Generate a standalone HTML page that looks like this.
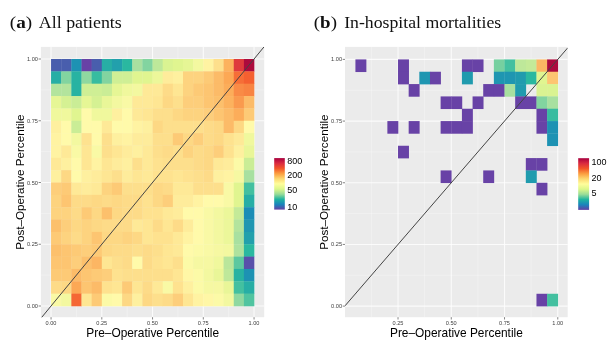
<!DOCTYPE html>
<html><head><meta charset="utf-8"><style>
html,body{margin:0;padding:0;background:#fff;width:611px;height:344px;overflow:hidden}
.tk{font-family:"Liberation Sans",sans-serif;font-size:5.6px;fill:#404040}
.at{font-family:"Liberation Sans",sans-serif;font-size:11.9px;fill:#000}
.ti{font-family:"Liberation Serif",serif;font-size:17px;fill:#111}
.lg{font-family:"Liberation Sans",sans-serif;font-size:9px;fill:#000}
</style></head><body>
<svg width="611" height="344" viewBox="0 0 611 344" style="display:block;will-change:transform;filter:blur(0.35px)">
<rect width="611" height="344" fill="#fff"/>
<rect x="40.9" y="46.9" width="223.3" height="270.3" fill="#EBEBEB"/>
<line x1="76.42" y1="46.9" x2="76.42" y2="317.2" stroke="#fff" stroke-width="0.5" stroke-opacity="0.6"/>
<line x1="127.17" y1="46.9" x2="127.17" y2="317.2" stroke="#fff" stroke-width="0.5" stroke-opacity="0.6"/>
<line x1="177.93" y1="46.9" x2="177.93" y2="317.2" stroke="#fff" stroke-width="0.5" stroke-opacity="0.6"/>
<line x1="228.68" y1="46.9" x2="228.68" y2="317.2" stroke="#fff" stroke-width="0.5" stroke-opacity="0.6"/>
<line x1="40.9" y1="275.12" x2="264.2" y2="275.12" stroke="#fff" stroke-width="0.5" stroke-opacity="0.6"/>
<line x1="40.9" y1="213.38" x2="264.2" y2="213.38" stroke="#fff" stroke-width="0.5" stroke-opacity="0.6"/>
<line x1="40.9" y1="151.62" x2="264.2" y2="151.62" stroke="#fff" stroke-width="0.5" stroke-opacity="0.6"/>
<line x1="40.9" y1="89.88" x2="264.2" y2="89.88" stroke="#fff" stroke-width="0.5" stroke-opacity="0.6"/>
<line x1="51.05" y1="46.9" x2="51.05" y2="317.2" stroke="#fff" stroke-width="1.1" stroke-opacity="0.8"/>
<line x1="101.8" y1="46.9" x2="101.8" y2="317.2" stroke="#fff" stroke-width="1.1" stroke-opacity="0.8"/>
<line x1="152.55" y1="46.9" x2="152.55" y2="317.2" stroke="#fff" stroke-width="1.1" stroke-opacity="0.8"/>
<line x1="203.3" y1="46.9" x2="203.3" y2="317.2" stroke="#fff" stroke-width="1.1" stroke-opacity="0.8"/>
<line x1="254.05" y1="46.9" x2="254.05" y2="317.2" stroke="#fff" stroke-width="1.1" stroke-opacity="0.8"/>
<line x1="40.9" y1="306" x2="264.2" y2="306" stroke="#fff" stroke-width="1.1" stroke-opacity="0.8"/>
<line x1="40.9" y1="244.25" x2="264.2" y2="244.25" stroke="#fff" stroke-width="1.1" stroke-opacity="0.8"/>
<line x1="40.9" y1="182.5" x2="264.2" y2="182.5" stroke="#fff" stroke-width="1.1" stroke-opacity="0.8"/>
<line x1="40.9" y1="120.75" x2="264.2" y2="120.75" stroke="#fff" stroke-width="1.1" stroke-opacity="0.8"/>
<line x1="40.9" y1="59" x2="264.2" y2="59" stroke="#fff" stroke-width="1.1" stroke-opacity="0.8"/>
<rect x="51.05" y="59" width="10.45" height="12.65" fill="#495EAD"/>
<rect x="61.2" y="59" width="10.45" height="12.65" fill="#495EAD"/>
<rect x="71.35" y="59" width="10.45" height="12.65" fill="#1D92B3"/>
<rect x="81.5" y="59" width="10.45" height="12.65" fill="#6842A6"/>
<rect x="91.65" y="59" width="10.45" height="12.65" fill="#495EAD"/>
<rect x="101.8" y="59" width="10.45" height="12.65" fill="#27AEA5"/>
<rect x="111.95" y="59" width="10.45" height="12.65" fill="#22A0AC"/>
<rect x="122.1" y="59" width="10.45" height="12.65" fill="#2AB8A0"/>
<rect x="132.25" y="59" width="10.45" height="12.65" fill="#A8E0A0"/>
<rect x="142.4" y="59" width="10.45" height="12.65" fill="#82D4A0"/>
<rect x="152.55" y="59" width="10.45" height="12.65" fill="#BEE89A"/>
<rect x="162.7" y="59" width="10.45" height="12.65" fill="#DAF392"/>
<rect x="172.85" y="59" width="10.45" height="12.65" fill="#E0F590"/>
<rect x="183" y="59" width="10.45" height="12.65" fill="#E6F695"/>
<rect x="193.15" y="59" width="10.45" height="12.65" fill="#F3F8A0"/>
<rect x="203.3" y="59" width="10.45" height="12.65" fill="#FFF3A2"/>
<rect x="213.45" y="59" width="10.45" height="12.65" fill="#FDDF8C"/>
<rect x="223.6" y="59" width="10.45" height="12.65" fill="#FCB25E"/>
<rect x="233.75" y="59" width="10.45" height="12.65" fill="#DF3A3D"/>
<rect x="243.9" y="59" width="10.45" height="12.65" fill="#AC0A3D"/>
<rect x="51.05" y="71.35" width="10.45" height="12.65" fill="#27AEA5"/>
<rect x="61.2" y="71.35" width="10.45" height="12.65" fill="#82D4A0"/>
<rect x="71.35" y="71.35" width="10.45" height="12.65" fill="#28B3A2"/>
<rect x="81.5" y="71.35" width="10.45" height="12.65" fill="#8FD8A0"/>
<rect x="91.65" y="71.35" width="10.45" height="12.65" fill="#37BCA0"/>
<rect x="101.8" y="71.35" width="10.45" height="12.65" fill="#82D4A0"/>
<rect x="111.95" y="71.35" width="10.45" height="12.65" fill="#CFEF95"/>
<rect x="122.1" y="71.35" width="10.45" height="12.65" fill="#CFEF95"/>
<rect x="132.25" y="71.35" width="10.45" height="12.65" fill="#E0F590"/>
<rect x="142.4" y="71.35" width="10.45" height="12.65" fill="#E0F590"/>
<rect x="152.55" y="71.35" width="10.45" height="12.65" fill="#ECF79A"/>
<rect x="162.7" y="71.35" width="10.45" height="12.65" fill="#FEEC9B"/>
<rect x="172.85" y="71.35" width="10.45" height="12.65" fill="#FEF09F"/>
<rect x="183" y="71.35" width="10.45" height="12.65" fill="#FDD37F"/>
<rect x="193.15" y="71.35" width="10.45" height="12.65" fill="#FDD37F"/>
<rect x="203.3" y="71.35" width="10.45" height="12.65" fill="#FDCA76"/>
<rect x="213.45" y="71.35" width="10.45" height="12.65" fill="#FCBB68"/>
<rect x="223.6" y="71.35" width="10.45" height="12.65" fill="#FCA855"/>
<rect x="233.75" y="71.35" width="10.45" height="12.65" fill="#F66E37"/>
<rect x="243.9" y="71.35" width="10.45" height="12.65" fill="#F46030"/>
<rect x="51.05" y="83.7" width="10.45" height="12.65" fill="#B3E49D"/>
<rect x="61.2" y="83.7" width="10.45" height="12.65" fill="#B3E49D"/>
<rect x="71.35" y="83.7" width="10.45" height="12.65" fill="#28B3A2"/>
<rect x="81.5" y="83.7" width="10.45" height="12.65" fill="#CFEF95"/>
<rect x="91.65" y="83.7" width="10.45" height="12.65" fill="#CFEF95"/>
<rect x="101.8" y="83.7" width="10.45" height="12.65" fill="#CAED96"/>
<rect x="111.95" y="83.7" width="10.45" height="12.65" fill="#E6F695"/>
<rect x="122.1" y="83.7" width="10.45" height="12.65" fill="#F0F89D"/>
<rect x="132.25" y="83.7" width="10.45" height="12.65" fill="#F3F8A0"/>
<rect x="142.4" y="83.7" width="10.45" height="12.65" fill="#FEE997"/>
<rect x="152.55" y="83.7" width="10.45" height="12.65" fill="#FEE997"/>
<rect x="162.7" y="83.7" width="10.45" height="12.65" fill="#FDDB88"/>
<rect x="172.85" y="83.7" width="10.45" height="12.65" fill="#FEE693"/>
<rect x="183" y="83.7" width="10.45" height="12.65" fill="#FDD37F"/>
<rect x="193.15" y="83.7" width="10.45" height="12.65" fill="#FDCA76"/>
<rect x="203.3" y="83.7" width="10.45" height="12.65" fill="#FDC571"/>
<rect x="213.45" y="83.7" width="10.45" height="12.65" fill="#FCBB68"/>
<rect x="223.6" y="83.7" width="10.45" height="12.65" fill="#FCAD5A"/>
<rect x="233.75" y="83.7" width="10.45" height="12.65" fill="#F98B46"/>
<rect x="243.9" y="83.7" width="10.45" height="12.65" fill="#F88442"/>
<rect x="51.05" y="96.05" width="10.45" height="12.65" fill="#E6F695"/>
<rect x="61.2" y="96.05" width="10.45" height="12.65" fill="#D5F193"/>
<rect x="71.35" y="96.05" width="10.45" height="12.65" fill="#CAED96"/>
<rect x="81.5" y="96.05" width="10.45" height="12.65" fill="#E6F695"/>
<rect x="91.65" y="96.05" width="10.45" height="12.65" fill="#D5F193"/>
<rect x="101.8" y="96.05" width="10.45" height="12.65" fill="#E9F698"/>
<rect x="111.95" y="96.05" width="10.45" height="12.65" fill="#F3F8A0"/>
<rect x="122.1" y="96.05" width="10.45" height="12.65" fill="#F9F9A5"/>
<rect x="132.25" y="96.05" width="10.45" height="12.65" fill="#FEE997"/>
<rect x="142.4" y="96.05" width="10.45" height="12.65" fill="#FEE997"/>
<rect x="152.55" y="96.05" width="10.45" height="12.65" fill="#FEE693"/>
<rect x="162.7" y="96.05" width="10.45" height="12.65" fill="#FDD884"/>
<rect x="172.85" y="96.05" width="10.45" height="12.65" fill="#FDDF8C"/>
<rect x="183" y="96.05" width="10.45" height="12.65" fill="#FDCE7B"/>
<rect x="193.15" y="96.05" width="10.45" height="12.65" fill="#FDCE7B"/>
<rect x="203.3" y="96.05" width="10.45" height="12.65" fill="#FDC571"/>
<rect x="213.45" y="96.05" width="10.45" height="12.65" fill="#FCC06C"/>
<rect x="223.6" y="96.05" width="10.45" height="12.65" fill="#FCB25E"/>
<rect x="233.75" y="96.05" width="10.45" height="12.65" fill="#FA9A4E"/>
<rect x="243.9" y="96.05" width="10.45" height="12.65" fill="#FCBB68"/>
<rect x="51.05" y="108.4" width="10.45" height="12.65" fill="#F0F89D"/>
<rect x="61.2" y="108.4" width="10.45" height="12.65" fill="#F0F89D"/>
<rect x="71.35" y="108.4" width="10.45" height="12.65" fill="#E0F590"/>
<rect x="81.5" y="108.4" width="10.45" height="12.65" fill="#FFFAAA"/>
<rect x="91.65" y="108.4" width="10.45" height="12.65" fill="#F0F89D"/>
<rect x="101.8" y="108.4" width="10.45" height="12.65" fill="#F0F89D"/>
<rect x="111.95" y="108.4" width="10.45" height="12.65" fill="#FEF09F"/>
<rect x="122.1" y="108.4" width="10.45" height="12.65" fill="#FFFAAA"/>
<rect x="132.25" y="108.4" width="10.45" height="12.65" fill="#FEE997"/>
<rect x="142.4" y="108.4" width="10.45" height="12.65" fill="#FEE693"/>
<rect x="152.55" y="108.4" width="10.45" height="12.65" fill="#FDDF8C"/>
<rect x="162.7" y="108.4" width="10.45" height="12.65" fill="#FDDF8C"/>
<rect x="172.85" y="108.4" width="10.45" height="12.65" fill="#FDD884"/>
<rect x="183" y="108.4" width="10.45" height="12.65" fill="#FDD37F"/>
<rect x="193.15" y="108.4" width="10.45" height="12.65" fill="#FDD37F"/>
<rect x="203.3" y="108.4" width="10.45" height="12.65" fill="#FDCE7B"/>
<rect x="213.45" y="108.4" width="10.45" height="12.65" fill="#FDC571"/>
<rect x="223.6" y="108.4" width="10.45" height="12.65" fill="#FCBB68"/>
<rect x="233.75" y="108.4" width="10.45" height="12.65" fill="#FCAD5A"/>
<rect x="243.9" y="108.4" width="10.45" height="12.65" fill="#FDCA76"/>
<rect x="51.05" y="120.75" width="10.45" height="12.65" fill="#FEF09F"/>
<rect x="61.2" y="120.75" width="10.45" height="12.65" fill="#FFFAAA"/>
<rect x="71.35" y="120.75" width="10.45" height="12.65" fill="#CAED96"/>
<rect x="81.5" y="120.75" width="10.45" height="12.65" fill="#FFFAAA"/>
<rect x="91.65" y="120.75" width="10.45" height="12.65" fill="#FFFAAA"/>
<rect x="101.8" y="120.75" width="10.45" height="12.65" fill="#FEE997"/>
<rect x="111.95" y="120.75" width="10.45" height="12.65" fill="#FFFAAA"/>
<rect x="122.1" y="120.75" width="10.45" height="12.65" fill="#FFFAAA"/>
<rect x="132.25" y="120.75" width="10.45" height="12.65" fill="#FFF3A2"/>
<rect x="142.4" y="120.75" width="10.45" height="12.65" fill="#FEF09F"/>
<rect x="152.55" y="120.75" width="10.45" height="12.65" fill="#FDD884"/>
<rect x="162.7" y="120.75" width="10.45" height="12.65" fill="#FDDF8C"/>
<rect x="172.85" y="120.75" width="10.45" height="12.65" fill="#FDDF8C"/>
<rect x="183" y="120.75" width="10.45" height="12.65" fill="#FDDF8C"/>
<rect x="193.15" y="120.75" width="10.45" height="12.65" fill="#FDDF8C"/>
<rect x="203.3" y="120.75" width="10.45" height="12.65" fill="#FDDB88"/>
<rect x="213.45" y="120.75" width="10.45" height="12.65" fill="#FDD884"/>
<rect x="223.6" y="120.75" width="10.45" height="12.65" fill="#FCBB68"/>
<rect x="233.75" y="120.75" width="10.45" height="12.65" fill="#FDD884"/>
<rect x="243.9" y="120.75" width="10.45" height="12.65" fill="#FFFAAA"/>
<rect x="51.05" y="133.1" width="10.45" height="12.65" fill="#FFF3A2"/>
<rect x="61.2" y="133.1" width="10.45" height="12.65" fill="#FFFAAA"/>
<rect x="71.35" y="133.1" width="10.45" height="12.65" fill="#F3F8A0"/>
<rect x="81.5" y="133.1" width="10.45" height="12.65" fill="#FEE28F"/>
<rect x="91.65" y="133.1" width="10.45" height="12.65" fill="#FFFAAA"/>
<rect x="101.8" y="133.1" width="10.45" height="12.65" fill="#FDDF8C"/>
<rect x="111.95" y="133.1" width="10.45" height="12.65" fill="#FEF09F"/>
<rect x="122.1" y="133.1" width="10.45" height="12.65" fill="#FFF3A2"/>
<rect x="132.25" y="133.1" width="10.45" height="12.65" fill="#FEEC9B"/>
<rect x="142.4" y="133.1" width="10.45" height="12.65" fill="#FEEC9B"/>
<rect x="152.55" y="133.1" width="10.45" height="12.65" fill="#FDDF8C"/>
<rect x="162.7" y="133.1" width="10.45" height="12.65" fill="#FDDF8C"/>
<rect x="172.85" y="133.1" width="10.45" height="12.65" fill="#FDCA76"/>
<rect x="183" y="133.1" width="10.45" height="12.65" fill="#FDD884"/>
<rect x="193.15" y="133.1" width="10.45" height="12.65" fill="#FDCE7B"/>
<rect x="203.3" y="133.1" width="10.45" height="12.65" fill="#FDDB88"/>
<rect x="213.45" y="133.1" width="10.45" height="12.65" fill="#FDD884"/>
<rect x="223.6" y="133.1" width="10.45" height="12.65" fill="#FEE28F"/>
<rect x="233.75" y="133.1" width="10.45" height="12.65" fill="#FEE997"/>
<rect x="243.9" y="133.1" width="10.45" height="12.65" fill="#F0F89D"/>
<rect x="51.05" y="145.45" width="10.45" height="12.65" fill="#FFF3A2"/>
<rect x="61.2" y="145.45" width="10.45" height="12.65" fill="#FEE997"/>
<rect x="71.35" y="145.45" width="10.45" height="12.65" fill="#F9F9A5"/>
<rect x="81.5" y="145.45" width="10.45" height="12.65" fill="#FEE693"/>
<rect x="91.65" y="145.45" width="10.45" height="12.65" fill="#F9F9A5"/>
<rect x="101.8" y="145.45" width="10.45" height="12.65" fill="#FDDF8C"/>
<rect x="111.95" y="145.45" width="10.45" height="12.65" fill="#FEE693"/>
<rect x="122.1" y="145.45" width="10.45" height="12.65" fill="#FEEC9B"/>
<rect x="132.25" y="145.45" width="10.45" height="12.65" fill="#FEF09F"/>
<rect x="142.4" y="145.45" width="10.45" height="12.65" fill="#FEE997"/>
<rect x="152.55" y="145.45" width="10.45" height="12.65" fill="#FDDF8C"/>
<rect x="162.7" y="145.45" width="10.45" height="12.65" fill="#FDDB88"/>
<rect x="172.85" y="145.45" width="10.45" height="12.65" fill="#FDDF8C"/>
<rect x="183" y="145.45" width="10.45" height="12.65" fill="#FDD37F"/>
<rect x="193.15" y="145.45" width="10.45" height="12.65" fill="#FDDB88"/>
<rect x="203.3" y="145.45" width="10.45" height="12.65" fill="#FDD884"/>
<rect x="213.45" y="145.45" width="10.45" height="12.65" fill="#FDCE7B"/>
<rect x="223.6" y="145.45" width="10.45" height="12.65" fill="#FEE28F"/>
<rect x="233.75" y="145.45" width="10.45" height="12.65" fill="#FEF09F"/>
<rect x="243.9" y="145.45" width="10.45" height="12.65" fill="#E9F698"/>
<rect x="51.05" y="157.8" width="10.45" height="12.65" fill="#FEE997"/>
<rect x="61.2" y="157.8" width="10.45" height="12.65" fill="#FEF09F"/>
<rect x="71.35" y="157.8" width="10.45" height="12.65" fill="#FFFAAA"/>
<rect x="81.5" y="157.8" width="10.45" height="12.65" fill="#FEE693"/>
<rect x="91.65" y="157.8" width="10.45" height="12.65" fill="#FFF3A2"/>
<rect x="101.8" y="157.8" width="10.45" height="12.65" fill="#FEE693"/>
<rect x="111.95" y="157.8" width="10.45" height="12.65" fill="#FEEC9B"/>
<rect x="122.1" y="157.8" width="10.45" height="12.65" fill="#FEF09F"/>
<rect x="132.25" y="157.8" width="10.45" height="12.65" fill="#FDDF8C"/>
<rect x="142.4" y="157.8" width="10.45" height="12.65" fill="#FEE997"/>
<rect x="152.55" y="157.8" width="10.45" height="12.65" fill="#FEE28F"/>
<rect x="162.7" y="157.8" width="10.45" height="12.65" fill="#FDDF8C"/>
<rect x="172.85" y="157.8" width="10.45" height="12.65" fill="#FDDF8C"/>
<rect x="183" y="157.8" width="10.45" height="12.65" fill="#FDDF8C"/>
<rect x="193.15" y="157.8" width="10.45" height="12.65" fill="#FDDB88"/>
<rect x="203.3" y="157.8" width="10.45" height="12.65" fill="#FDD884"/>
<rect x="213.45" y="157.8" width="10.45" height="12.65" fill="#FEE997"/>
<rect x="223.6" y="157.8" width="10.45" height="12.65" fill="#FEEC9B"/>
<rect x="233.75" y="157.8" width="10.45" height="12.65" fill="#FCFAA7"/>
<rect x="243.9" y="157.8" width="10.45" height="12.65" fill="#CAED96"/>
<rect x="51.05" y="170.15" width="10.45" height="12.65" fill="#FEF09F"/>
<rect x="61.2" y="170.15" width="10.45" height="12.65" fill="#FDD884"/>
<rect x="71.35" y="170.15" width="10.45" height="12.65" fill="#FFFAAA"/>
<rect x="81.5" y="170.15" width="10.45" height="12.65" fill="#FEF09F"/>
<rect x="91.65" y="170.15" width="10.45" height="12.65" fill="#FEEC9B"/>
<rect x="101.8" y="170.15" width="10.45" height="12.65" fill="#FEE693"/>
<rect x="111.95" y="170.15" width="10.45" height="12.65" fill="#FDDF8C"/>
<rect x="122.1" y="170.15" width="10.45" height="12.65" fill="#FEEC9B"/>
<rect x="132.25" y="170.15" width="10.45" height="12.65" fill="#FEE693"/>
<rect x="142.4" y="170.15" width="10.45" height="12.65" fill="#FEE997"/>
<rect x="152.55" y="170.15" width="10.45" height="12.65" fill="#FEE28F"/>
<rect x="162.7" y="170.15" width="10.45" height="12.65" fill="#FEE28F"/>
<rect x="172.85" y="170.15" width="10.45" height="12.65" fill="#FEE693"/>
<rect x="183" y="170.15" width="10.45" height="12.65" fill="#FEE28F"/>
<rect x="193.15" y="170.15" width="10.45" height="12.65" fill="#FDDF8C"/>
<rect x="203.3" y="170.15" width="10.45" height="12.65" fill="#FDDB88"/>
<rect x="213.45" y="170.15" width="10.45" height="12.65" fill="#FEF09F"/>
<rect x="223.6" y="170.15" width="10.45" height="12.65" fill="#FFF3A2"/>
<rect x="233.75" y="170.15" width="10.45" height="12.65" fill="#F6F8A2"/>
<rect x="243.9" y="170.15" width="10.45" height="12.65" fill="#A8E0A0"/>
<rect x="51.05" y="182.5" width="10.45" height="12.65" fill="#FDCE7B"/>
<rect x="61.2" y="182.5" width="10.45" height="12.65" fill="#FDCA76"/>
<rect x="71.35" y="182.5" width="10.45" height="12.65" fill="#FEE997"/>
<rect x="81.5" y="182.5" width="10.45" height="12.65" fill="#FEEC9B"/>
<rect x="91.65" y="182.5" width="10.45" height="12.65" fill="#FEE997"/>
<rect x="101.8" y="182.5" width="10.45" height="12.65" fill="#FDD37F"/>
<rect x="111.95" y="182.5" width="10.45" height="12.65" fill="#FDCA76"/>
<rect x="122.1" y="182.5" width="10.45" height="12.65" fill="#FDDF8C"/>
<rect x="132.25" y="182.5" width="10.45" height="12.65" fill="#FDDF8C"/>
<rect x="142.4" y="182.5" width="10.45" height="12.65" fill="#FDDF8C"/>
<rect x="152.55" y="182.5" width="10.45" height="12.65" fill="#FDD884"/>
<rect x="162.7" y="182.5" width="10.45" height="12.65" fill="#FDDB88"/>
<rect x="172.85" y="182.5" width="10.45" height="12.65" fill="#FEE997"/>
<rect x="183" y="182.5" width="10.45" height="12.65" fill="#FEE997"/>
<rect x="193.15" y="182.5" width="10.45" height="12.65" fill="#FDDF8C"/>
<rect x="203.3" y="182.5" width="10.45" height="12.65" fill="#FDDF8C"/>
<rect x="213.45" y="182.5" width="10.45" height="12.65" fill="#FDDF8C"/>
<rect x="223.6" y="182.5" width="10.45" height="12.65" fill="#F9F9A5"/>
<rect x="233.75" y="182.5" width="10.45" height="12.65" fill="#E0F590"/>
<rect x="243.9" y="182.5" width="10.45" height="12.65" fill="#43C0A0"/>
<rect x="51.05" y="194.85" width="10.45" height="12.65" fill="#FDD37F"/>
<rect x="61.2" y="194.85" width="10.45" height="12.65" fill="#FDC571"/>
<rect x="71.35" y="194.85" width="10.45" height="12.65" fill="#FDDB88"/>
<rect x="81.5" y="194.85" width="10.45" height="12.65" fill="#FDDB88"/>
<rect x="91.65" y="194.85" width="10.45" height="12.65" fill="#FDD884"/>
<rect x="101.8" y="194.85" width="10.45" height="12.65" fill="#FDDB88"/>
<rect x="111.95" y="194.85" width="10.45" height="12.65" fill="#FDD884"/>
<rect x="122.1" y="194.85" width="10.45" height="12.65" fill="#FDDB88"/>
<rect x="132.25" y="194.85" width="10.45" height="12.65" fill="#FDDB88"/>
<rect x="142.4" y="194.85" width="10.45" height="12.65" fill="#FEE28F"/>
<rect x="152.55" y="194.85" width="10.45" height="12.65" fill="#FDD884"/>
<rect x="162.7" y="194.85" width="10.45" height="12.65" fill="#FDCE7B"/>
<rect x="172.85" y="194.85" width="10.45" height="12.65" fill="#FEEC9B"/>
<rect x="183" y="194.85" width="10.45" height="12.65" fill="#FEEC9B"/>
<rect x="193.15" y="194.85" width="10.45" height="12.65" fill="#FFF3A2"/>
<rect x="203.3" y="194.85" width="10.45" height="12.65" fill="#FFFAAA"/>
<rect x="213.45" y="194.85" width="10.45" height="12.65" fill="#FFFAAA"/>
<rect x="223.6" y="194.85" width="10.45" height="12.65" fill="#F9F9A5"/>
<rect x="233.75" y="194.85" width="10.45" height="12.65" fill="#E0F590"/>
<rect x="243.9" y="194.85" width="10.45" height="12.65" fill="#27AEA5"/>
<rect x="51.05" y="207.2" width="10.45" height="12.65" fill="#FDD37F"/>
<rect x="61.2" y="207.2" width="10.45" height="12.65" fill="#FDD37F"/>
<rect x="71.35" y="207.2" width="10.45" height="12.65" fill="#FDDB88"/>
<rect x="81.5" y="207.2" width="10.45" height="12.65" fill="#FDCA76"/>
<rect x="91.65" y="207.2" width="10.45" height="12.65" fill="#FDD884"/>
<rect x="101.8" y="207.2" width="10.45" height="12.65" fill="#FCC06C"/>
<rect x="111.95" y="207.2" width="10.45" height="12.65" fill="#FDD884"/>
<rect x="122.1" y="207.2" width="10.45" height="12.65" fill="#FDDB88"/>
<rect x="132.25" y="207.2" width="10.45" height="12.65" fill="#FDDB88"/>
<rect x="142.4" y="207.2" width="10.45" height="12.65" fill="#FEE28F"/>
<rect x="152.55" y="207.2" width="10.45" height="12.65" fill="#FEE28F"/>
<rect x="162.7" y="207.2" width="10.45" height="12.65" fill="#FEE997"/>
<rect x="172.85" y="207.2" width="10.45" height="12.65" fill="#FEEC9B"/>
<rect x="183" y="207.2" width="10.45" height="12.65" fill="#FFFAAA"/>
<rect x="193.15" y="207.2" width="10.45" height="12.65" fill="#FFFAAA"/>
<rect x="203.3" y="207.2" width="10.45" height="12.65" fill="#F9F9A5"/>
<rect x="213.45" y="207.2" width="10.45" height="12.65" fill="#F3F8A0"/>
<rect x="223.6" y="207.2" width="10.45" height="12.65" fill="#ECF79A"/>
<rect x="233.75" y="207.2" width="10.45" height="12.65" fill="#C4EA98"/>
<rect x="243.9" y="207.2" width="10.45" height="12.65" fill="#1C8DB6"/>
<rect x="51.05" y="219.55" width="10.45" height="12.65" fill="#FCC06C"/>
<rect x="61.2" y="219.55" width="10.45" height="12.65" fill="#FDCE7B"/>
<rect x="71.35" y="219.55" width="10.45" height="12.65" fill="#FDD884"/>
<rect x="81.5" y="219.55" width="10.45" height="12.65" fill="#FDD37F"/>
<rect x="91.65" y="219.55" width="10.45" height="12.65" fill="#FDD884"/>
<rect x="101.8" y="219.55" width="10.45" height="12.65" fill="#FDDB88"/>
<rect x="111.95" y="219.55" width="10.45" height="12.65" fill="#FDDB88"/>
<rect x="122.1" y="219.55" width="10.45" height="12.65" fill="#FDDB88"/>
<rect x="132.25" y="219.55" width="10.45" height="12.65" fill="#FEE997"/>
<rect x="142.4" y="219.55" width="10.45" height="12.65" fill="#FEE693"/>
<rect x="152.55" y="219.55" width="10.45" height="12.65" fill="#FDDB88"/>
<rect x="162.7" y="219.55" width="10.45" height="12.65" fill="#FEE693"/>
<rect x="172.85" y="219.55" width="10.45" height="12.65" fill="#FDDB88"/>
<rect x="183" y="219.55" width="10.45" height="12.65" fill="#FEEC9B"/>
<rect x="193.15" y="219.55" width="10.45" height="12.65" fill="#FFFAAA"/>
<rect x="203.3" y="219.55" width="10.45" height="12.65" fill="#F9F9A5"/>
<rect x="213.45" y="219.55" width="10.45" height="12.65" fill="#F3F8A0"/>
<rect x="223.6" y="219.55" width="10.45" height="12.65" fill="#ECF79A"/>
<rect x="233.75" y="219.55" width="10.45" height="12.65" fill="#B3E49D"/>
<rect x="243.9" y="219.55" width="10.45" height="12.65" fill="#1F96B1"/>
<rect x="51.05" y="231.9" width="10.45" height="12.65" fill="#FDCA76"/>
<rect x="61.2" y="231.9" width="10.45" height="12.65" fill="#FDD37F"/>
<rect x="71.35" y="231.9" width="10.45" height="12.65" fill="#FDDB88"/>
<rect x="81.5" y="231.9" width="10.45" height="12.65" fill="#FDD37F"/>
<rect x="91.65" y="231.9" width="10.45" height="12.65" fill="#FDC571"/>
<rect x="101.8" y="231.9" width="10.45" height="12.65" fill="#FDD884"/>
<rect x="111.95" y="231.9" width="10.45" height="12.65" fill="#FDD884"/>
<rect x="122.1" y="231.9" width="10.45" height="12.65" fill="#FDD37F"/>
<rect x="132.25" y="231.9" width="10.45" height="12.65" fill="#FDD884"/>
<rect x="142.4" y="231.9" width="10.45" height="12.65" fill="#FEE693"/>
<rect x="152.55" y="231.9" width="10.45" height="12.65" fill="#FEE28F"/>
<rect x="162.7" y="231.9" width="10.45" height="12.65" fill="#FEE28F"/>
<rect x="172.85" y="231.9" width="10.45" height="12.65" fill="#FEE997"/>
<rect x="183" y="231.9" width="10.45" height="12.65" fill="#FFF3A2"/>
<rect x="193.15" y="231.9" width="10.45" height="12.65" fill="#FFFAAA"/>
<rect x="203.3" y="231.9" width="10.45" height="12.65" fill="#F9F9A5"/>
<rect x="213.45" y="231.9" width="10.45" height="12.65" fill="#F3F8A0"/>
<rect x="223.6" y="231.9" width="10.45" height="12.65" fill="#ECF79A"/>
<rect x="233.75" y="231.9" width="10.45" height="12.65" fill="#A8E0A0"/>
<rect x="243.9" y="231.9" width="10.45" height="12.65" fill="#22A0AC"/>
<rect x="51.05" y="244.25" width="10.45" height="12.65" fill="#FCC06C"/>
<rect x="61.2" y="244.25" width="10.45" height="12.65" fill="#FDC571"/>
<rect x="71.35" y="244.25" width="10.45" height="12.65" fill="#FDCA76"/>
<rect x="81.5" y="244.25" width="10.45" height="12.65" fill="#FDCE7B"/>
<rect x="91.65" y="244.25" width="10.45" height="12.65" fill="#FDCA76"/>
<rect x="101.8" y="244.25" width="10.45" height="12.65" fill="#FDD884"/>
<rect x="111.95" y="244.25" width="10.45" height="12.65" fill="#FDDB88"/>
<rect x="122.1" y="244.25" width="10.45" height="12.65" fill="#FDDB88"/>
<rect x="132.25" y="244.25" width="10.45" height="12.65" fill="#FDDF8C"/>
<rect x="142.4" y="244.25" width="10.45" height="12.65" fill="#FDDB88"/>
<rect x="152.55" y="244.25" width="10.45" height="12.65" fill="#FDDF8C"/>
<rect x="162.7" y="244.25" width="10.45" height="12.65" fill="#FEE693"/>
<rect x="172.85" y="244.25" width="10.45" height="12.65" fill="#FEE997"/>
<rect x="183" y="244.25" width="10.45" height="12.65" fill="#FFFAAA"/>
<rect x="193.15" y="244.25" width="10.45" height="12.65" fill="#FCFAA7"/>
<rect x="203.3" y="244.25" width="10.45" height="12.65" fill="#F9F9A5"/>
<rect x="213.45" y="244.25" width="10.45" height="12.65" fill="#F6F8A2"/>
<rect x="223.6" y="244.25" width="10.45" height="12.65" fill="#F3F8A0"/>
<rect x="233.75" y="244.25" width="10.45" height="12.65" fill="#AEE29E"/>
<rect x="243.9" y="244.25" width="10.45" height="12.65" fill="#2AB8A0"/>
<rect x="51.05" y="256.6" width="10.45" height="12.65" fill="#FDC571"/>
<rect x="61.2" y="256.6" width="10.45" height="12.65" fill="#FDC571"/>
<rect x="71.35" y="256.6" width="10.45" height="12.65" fill="#FDCE7B"/>
<rect x="81.5" y="256.6" width="10.45" height="12.65" fill="#FCC06C"/>
<rect x="91.65" y="256.6" width="10.45" height="12.65" fill="#FCB663"/>
<rect x="101.8" y="256.6" width="10.45" height="12.65" fill="#FEE693"/>
<rect x="111.95" y="256.6" width="10.45" height="12.65" fill="#FDDF8C"/>
<rect x="122.1" y="256.6" width="10.45" height="12.65" fill="#FDDB88"/>
<rect x="132.25" y="256.6" width="10.45" height="12.65" fill="#FFFAAA"/>
<rect x="142.4" y="256.6" width="10.45" height="12.65" fill="#FDDB88"/>
<rect x="152.55" y="256.6" width="10.45" height="12.65" fill="#FEE28F"/>
<rect x="162.7" y="256.6" width="10.45" height="12.65" fill="#FEE693"/>
<rect x="172.85" y="256.6" width="10.45" height="12.65" fill="#FDDF8C"/>
<rect x="183" y="256.6" width="10.45" height="12.65" fill="#FCFAA7"/>
<rect x="193.15" y="256.6" width="10.45" height="12.65" fill="#F6F8A2"/>
<rect x="203.3" y="256.6" width="10.45" height="12.65" fill="#F6F8A2"/>
<rect x="213.45" y="256.6" width="10.45" height="12.65" fill="#F0F89D"/>
<rect x="223.6" y="256.6" width="10.45" height="12.65" fill="#B9E69B"/>
<rect x="233.75" y="256.6" width="10.45" height="12.65" fill="#5CC8A0"/>
<rect x="243.9" y="256.6" width="10.45" height="12.65" fill="#5850AA"/>
<rect x="51.05" y="268.95" width="10.45" height="12.65" fill="#FDCA76"/>
<rect x="61.2" y="268.95" width="10.45" height="12.65" fill="#FDCA76"/>
<rect x="71.35" y="268.95" width="10.45" height="12.65" fill="#FCBB68"/>
<rect x="81.5" y="268.95" width="10.45" height="12.65" fill="#FDC571"/>
<rect x="91.65" y="268.95" width="10.45" height="12.65" fill="#FDCA76"/>
<rect x="101.8" y="268.95" width="10.45" height="12.65" fill="#FDCE7B"/>
<rect x="111.95" y="268.95" width="10.45" height="12.65" fill="#FEE28F"/>
<rect x="122.1" y="268.95" width="10.45" height="12.65" fill="#FDDF8C"/>
<rect x="132.25" y="268.95" width="10.45" height="12.65" fill="#FDDF8C"/>
<rect x="142.4" y="268.95" width="10.45" height="12.65" fill="#FDDF8C"/>
<rect x="152.55" y="268.95" width="10.45" height="12.65" fill="#FDDF8C"/>
<rect x="162.7" y="268.95" width="10.45" height="12.65" fill="#FDDF8C"/>
<rect x="172.85" y="268.95" width="10.45" height="12.65" fill="#FEE693"/>
<rect x="183" y="268.95" width="10.45" height="12.65" fill="#FFF7A6"/>
<rect x="193.15" y="268.95" width="10.45" height="12.65" fill="#FCFAA7"/>
<rect x="203.3" y="268.95" width="10.45" height="12.65" fill="#F3F8A0"/>
<rect x="213.45" y="268.95" width="10.45" height="12.65" fill="#E9F698"/>
<rect x="223.6" y="268.95" width="10.45" height="12.65" fill="#BEE89A"/>
<rect x="233.75" y="268.95" width="10.45" height="12.65" fill="#28B3A2"/>
<rect x="243.9" y="268.95" width="10.45" height="12.65" fill="#1D92B3"/>
<rect x="51.05" y="281.3" width="10.45" height="12.65" fill="#FDDB88"/>
<rect x="61.2" y="281.3" width="10.45" height="12.65" fill="#FDD884"/>
<rect x="71.35" y="281.3" width="10.45" height="12.65" fill="#FCA855"/>
<rect x="81.5" y="281.3" width="10.45" height="12.65" fill="#FDC571"/>
<rect x="91.65" y="281.3" width="10.45" height="12.65" fill="#FCBB68"/>
<rect x="101.8" y="281.3" width="10.45" height="12.65" fill="#FEE28F"/>
<rect x="111.95" y="281.3" width="10.45" height="12.65" fill="#FEE693"/>
<rect x="122.1" y="281.3" width="10.45" height="12.65" fill="#FDCA76"/>
<rect x="132.25" y="281.3" width="10.45" height="12.65" fill="#FEE693"/>
<rect x="142.4" y="281.3" width="10.45" height="12.65" fill="#FDDB88"/>
<rect x="152.55" y="281.3" width="10.45" height="12.65" fill="#FEE997"/>
<rect x="162.7" y="281.3" width="10.45" height="12.65" fill="#F9F9A5"/>
<rect x="172.85" y="281.3" width="10.45" height="12.65" fill="#FEE28F"/>
<rect x="183" y="281.3" width="10.45" height="12.65" fill="#FEF09F"/>
<rect x="193.15" y="281.3" width="10.45" height="12.65" fill="#FCFAA7"/>
<rect x="203.3" y="281.3" width="10.45" height="12.65" fill="#F6F8A2"/>
<rect x="213.45" y="281.3" width="10.45" height="12.65" fill="#F6F8A2"/>
<rect x="223.6" y="281.3" width="10.45" height="12.65" fill="#E9F698"/>
<rect x="233.75" y="281.3" width="10.45" height="12.65" fill="#43C0A0"/>
<rect x="243.9" y="281.3" width="10.45" height="12.65" fill="#27AEA5"/>
<rect x="51.05" y="293.65" width="10.45" height="12.65" fill="#F9F9A5"/>
<rect x="61.2" y="293.65" width="10.45" height="12.65" fill="#F3F8A0"/>
<rect x="71.35" y="293.65" width="10.45" height="12.65" fill="#F56734"/>
<rect x="81.5" y="293.65" width="10.45" height="12.65" fill="#FEE693"/>
<rect x="91.65" y="293.65" width="10.45" height="12.65" fill="#FDCA76"/>
<rect x="101.8" y="293.65" width="10.45" height="12.65" fill="#FCFAA7"/>
<rect x="111.95" y="293.65" width="10.45" height="12.65" fill="#FFFAAA"/>
<rect x="122.1" y="293.65" width="10.45" height="12.65" fill="#FDD884"/>
<rect x="132.25" y="293.65" width="10.45" height="12.65" fill="#FEF09F"/>
<rect x="142.4" y="293.65" width="10.45" height="12.65" fill="#FDD884"/>
<rect x="152.55" y="293.65" width="10.45" height="12.65" fill="#FDDF8C"/>
<rect x="162.7" y="293.65" width="10.45" height="12.65" fill="#FDDB88"/>
<rect x="172.85" y="293.65" width="10.45" height="12.65" fill="#FDCE7B"/>
<rect x="183" y="293.65" width="10.45" height="12.65" fill="#FEE693"/>
<rect x="193.15" y="293.65" width="10.45" height="12.65" fill="#FFF3A2"/>
<rect x="203.3" y="293.65" width="10.45" height="12.65" fill="#FFF7A6"/>
<rect x="213.45" y="293.65" width="10.45" height="12.65" fill="#FCFAA7"/>
<rect x="223.6" y="293.65" width="10.45" height="12.65" fill="#F3F8A0"/>
<rect x="233.75" y="293.65" width="10.45" height="12.65" fill="#8FD8A0"/>
<rect x="243.9" y="293.65" width="10.45" height="12.65" fill="#50C4A0"/>
<clipPath id="cl"><rect x="40.9" y="46.9" width="223.3" height="270.3"/></clipPath>
<line x1="40.9" y1="318.35" x2="264.2" y2="46.65" stroke="#444" stroke-width="1" clip-path="url(#cl)"/>
<line x1="51.05" y1="317.2" x2="51.05" y2="319.5" stroke="#333" stroke-width="0.6"/>
<text x="51.05" y="324.8" text-anchor="middle" class="tk">0.00</text>
<line x1="101.8" y1="317.2" x2="101.8" y2="319.5" stroke="#333" stroke-width="0.6"/>
<text x="101.8" y="324.8" text-anchor="middle" class="tk">0.25</text>
<line x1="152.55" y1="317.2" x2="152.55" y2="319.5" stroke="#333" stroke-width="0.6"/>
<text x="152.55" y="324.8" text-anchor="middle" class="tk">0.50</text>
<line x1="203.3" y1="317.2" x2="203.3" y2="319.5" stroke="#333" stroke-width="0.6"/>
<text x="203.3" y="324.8" text-anchor="middle" class="tk">0.75</text>
<line x1="254.05" y1="317.2" x2="254.05" y2="319.5" stroke="#333" stroke-width="0.6"/>
<text x="254.05" y="324.8" text-anchor="middle" class="tk">1.00</text>
<line x1="38.6" y1="306" x2="40.9" y2="306" stroke="#333" stroke-width="0.6"/>
<text x="37.9" y="308" text-anchor="end" class="tk">0.00</text>
<line x1="38.6" y1="244.25" x2="40.9" y2="244.25" stroke="#333" stroke-width="0.6"/>
<text x="37.9" y="246.25" text-anchor="end" class="tk">0.25</text>
<line x1="38.6" y1="182.5" x2="40.9" y2="182.5" stroke="#333" stroke-width="0.6"/>
<text x="37.9" y="184.5" text-anchor="end" class="tk">0.50</text>
<line x1="38.6" y1="120.75" x2="40.9" y2="120.75" stroke="#333" stroke-width="0.6"/>
<text x="37.9" y="122.75" text-anchor="end" class="tk">0.75</text>
<line x1="38.6" y1="59" x2="40.9" y2="59" stroke="#333" stroke-width="0.6"/>
<text x="37.9" y="61" text-anchor="end" class="tk">1.00</text>
<rect x="345" y="46.9" width="222.7" height="270.3" fill="#EBEBEB"/>
<line x1="371.39" y1="46.9" x2="371.39" y2="317.2" stroke="#fff" stroke-width="0.5" stroke-opacity="0.6"/>
<line x1="424.64" y1="46.9" x2="424.64" y2="317.2" stroke="#fff" stroke-width="0.5" stroke-opacity="0.6"/>
<line x1="477.89" y1="46.9" x2="477.89" y2="317.2" stroke="#fff" stroke-width="0.5" stroke-opacity="0.6"/>
<line x1="531.14" y1="46.9" x2="531.14" y2="317.2" stroke="#fff" stroke-width="0.5" stroke-opacity="0.6"/>
<line x1="345" y1="275.26" x2="567.7" y2="275.26" stroke="#fff" stroke-width="0.5" stroke-opacity="0.6"/>
<line x1="345" y1="213.59" x2="567.7" y2="213.59" stroke="#fff" stroke-width="0.5" stroke-opacity="0.6"/>
<line x1="345" y1="151.91" x2="567.7" y2="151.91" stroke="#fff" stroke-width="0.5" stroke-opacity="0.6"/>
<line x1="345" y1="90.24" x2="567.7" y2="90.24" stroke="#fff" stroke-width="0.5" stroke-opacity="0.6"/>
<line x1="398.02" y1="46.9" x2="398.02" y2="317.2" stroke="#fff" stroke-width="1.1" stroke-opacity="0.8"/>
<line x1="451.27" y1="46.9" x2="451.27" y2="317.2" stroke="#fff" stroke-width="1.1" stroke-opacity="0.8"/>
<line x1="504.52" y1="46.9" x2="504.52" y2="317.2" stroke="#fff" stroke-width="1.1" stroke-opacity="0.8"/>
<line x1="557.77" y1="46.9" x2="557.77" y2="317.2" stroke="#fff" stroke-width="1.1" stroke-opacity="0.8"/>
<line x1="345" y1="306.1" x2="567.7" y2="306.1" stroke="#fff" stroke-width="1.1" stroke-opacity="0.8"/>
<line x1="345" y1="244.43" x2="567.7" y2="244.43" stroke="#fff" stroke-width="1.1" stroke-opacity="0.8"/>
<line x1="345" y1="182.75" x2="567.7" y2="182.75" stroke="#fff" stroke-width="1.1" stroke-opacity="0.8"/>
<line x1="345" y1="121.08" x2="567.7" y2="121.08" stroke="#fff" stroke-width="1.1" stroke-opacity="0.8"/>
<line x1="345" y1="59.4" x2="567.7" y2="59.4" stroke="#fff" stroke-width="1.1" stroke-opacity="0.8"/>
<rect x="355.42" y="59.4" width="10.95" height="12.64" fill="#6842A6"/>
<rect x="398.02" y="59.4" width="10.95" height="12.64" fill="#6842A6"/>
<rect x="461.92" y="59.4" width="10.95" height="12.64" fill="#6842A6"/>
<rect x="472.57" y="59.4" width="10.95" height="12.64" fill="#6842A6"/>
<rect x="493.87" y="59.4" width="10.95" height="12.64" fill="#76D0A0"/>
<rect x="504.52" y="59.4" width="10.95" height="12.64" fill="#43C0A0"/>
<rect x="515.17" y="59.4" width="10.95" height="12.64" fill="#BEE89A"/>
<rect x="525.82" y="59.4" width="10.95" height="12.64" fill="#C4EA98"/>
<rect x="536.47" y="59.4" width="10.95" height="12.64" fill="#FCB663"/>
<rect x="547.12" y="59.4" width="10.95" height="12.64" fill="#AC0A3D"/>
<rect x="398.02" y="71.74" width="10.95" height="12.63" fill="#6842A6"/>
<rect x="419.32" y="71.74" width="10.95" height="12.63" fill="#1F96B1"/>
<rect x="429.97" y="71.74" width="10.95" height="12.63" fill="#6842A6"/>
<rect x="461.92" y="71.74" width="10.95" height="12.63" fill="#209BAE"/>
<rect x="493.87" y="71.74" width="10.95" height="12.63" fill="#1F96B1"/>
<rect x="504.52" y="71.74" width="10.95" height="12.63" fill="#1F96B1"/>
<rect x="515.17" y="71.74" width="10.95" height="12.63" fill="#209BAE"/>
<rect x="525.82" y="71.74" width="10.95" height="12.63" fill="#2AB8A0"/>
<rect x="536.47" y="71.74" width="10.95" height="12.63" fill="#E0F590"/>
<rect x="547.12" y="71.74" width="10.95" height="12.63" fill="#FDC571"/>
<rect x="408.67" y="84.07" width="10.95" height="12.64" fill="#6842A6"/>
<rect x="483.22" y="84.07" width="10.95" height="12.64" fill="#6842A6"/>
<rect x="493.87" y="84.07" width="10.95" height="12.64" fill="#6842A6"/>
<rect x="504.52" y="84.07" width="10.95" height="12.64" fill="#A8E0A0"/>
<rect x="515.17" y="84.07" width="10.95" height="12.64" fill="#209BAE"/>
<rect x="536.47" y="84.07" width="10.95" height="12.64" fill="#DAF392"/>
<rect x="547.12" y="84.07" width="10.95" height="12.64" fill="#DAF392"/>
<rect x="440.62" y="96.41" width="10.95" height="12.63" fill="#6842A6"/>
<rect x="451.27" y="96.41" width="10.95" height="12.63" fill="#6842A6"/>
<rect x="472.57" y="96.41" width="10.95" height="12.63" fill="#6842A6"/>
<rect x="515.17" y="96.41" width="10.95" height="12.63" fill="#6842A6"/>
<rect x="525.82" y="96.41" width="10.95" height="12.63" fill="#6842A6"/>
<rect x="536.47" y="96.41" width="10.95" height="12.63" fill="#82D4A0"/>
<rect x="547.12" y="96.41" width="10.95" height="12.63" fill="#A8E0A0"/>
<rect x="461.92" y="108.74" width="10.95" height="12.64" fill="#6842A6"/>
<rect x="536.47" y="108.74" width="10.95" height="12.64" fill="#6842A6"/>
<rect x="547.12" y="108.74" width="10.95" height="12.64" fill="#37BCA0"/>
<rect x="387.37" y="121.08" width="10.95" height="12.64" fill="#6842A6"/>
<rect x="408.67" y="121.08" width="10.95" height="12.64" fill="#6842A6"/>
<rect x="440.62" y="121.08" width="10.95" height="12.64" fill="#6842A6"/>
<rect x="451.27" y="121.08" width="10.95" height="12.64" fill="#6842A6"/>
<rect x="461.92" y="121.08" width="10.95" height="12.64" fill="#6842A6"/>
<rect x="536.47" y="121.08" width="10.95" height="12.64" fill="#6842A6"/>
<rect x="547.12" y="121.08" width="10.95" height="12.64" fill="#1D92B3"/>
<rect x="547.12" y="133.41" width="10.95" height="12.64" fill="#1D92B3"/>
<rect x="398.02" y="145.75" width="10.95" height="12.63" fill="#6842A6"/>
<rect x="525.82" y="158.08" width="10.95" height="12.63" fill="#6842A6"/>
<rect x="536.47" y="158.08" width="10.95" height="12.63" fill="#6842A6"/>
<rect x="440.62" y="170.42" width="10.95" height="12.64" fill="#6842A6"/>
<rect x="483.22" y="170.42" width="10.95" height="12.64" fill="#6842A6"/>
<rect x="525.82" y="170.42" width="10.95" height="12.64" fill="#209BAE"/>
<rect x="536.47" y="182.75" width="10.95" height="12.64" fill="#6842A6"/>
<rect x="536.47" y="293.77" width="10.95" height="12.63" fill="#6842A6"/>
<rect x="547.12" y="293.77" width="10.95" height="12.63" fill="#43C0A0"/>
<clipPath id="cr"><rect x="345" y="46.9" width="222.7" height="270.3"/></clipPath>
<line x1="345" y1="305.83" x2="567.7" y2="47.9" stroke="#444" stroke-width="1" clip-path="url(#cr)"/>
<line x1="398.02" y1="317.2" x2="398.02" y2="319.5" stroke="#333" stroke-width="0.6"/>
<text x="398.02" y="324.8" text-anchor="middle" class="tk">0.25</text>
<line x1="451.27" y1="317.2" x2="451.27" y2="319.5" stroke="#333" stroke-width="0.6"/>
<text x="451.27" y="324.8" text-anchor="middle" class="tk">0.50</text>
<line x1="504.52" y1="317.2" x2="504.52" y2="319.5" stroke="#333" stroke-width="0.6"/>
<text x="504.52" y="324.8" text-anchor="middle" class="tk">0.75</text>
<line x1="557.77" y1="317.2" x2="557.77" y2="319.5" stroke="#333" stroke-width="0.6"/>
<text x="557.77" y="324.8" text-anchor="middle" class="tk">1.00</text>
<line x1="342.7" y1="306.1" x2="345" y2="306.1" stroke="#333" stroke-width="0.6"/>
<text x="342" y="308.1" text-anchor="end" class="tk">0.00</text>
<line x1="342.7" y1="244.43" x2="345" y2="244.43" stroke="#333" stroke-width="0.6"/>
<text x="342" y="246.43" text-anchor="end" class="tk">0.25</text>
<line x1="342.7" y1="182.75" x2="345" y2="182.75" stroke="#333" stroke-width="0.6"/>
<text x="342" y="184.75" text-anchor="end" class="tk">0.50</text>
<line x1="342.7" y1="121.08" x2="345" y2="121.08" stroke="#333" stroke-width="0.6"/>
<text x="342" y="123.08" text-anchor="end" class="tk">0.75</text>
<line x1="342.7" y1="59.4" x2="345" y2="59.4" stroke="#333" stroke-width="0.6"/>
<text x="342" y="61.4" text-anchor="end" class="tk">1.00</text>
<text x="152.7" y="337.1" text-anchor="middle" class="at">Pre–Operative Percentile</text>
<text x="456.4" y="337.1" text-anchor="middle" class="at">Pre–Operative Percentile</text>
<text transform="translate(23.5,182.1) rotate(-90)" text-anchor="middle" class="at" style="font-size:11.65px">Post–Operative Percentile</text>
<text transform="translate(327.5,182.1) rotate(-90)" text-anchor="middle" class="at" style="font-size:11.65px">Post–Operative Percentile</text>
<text x="9.8" y="27.6" class="ti" textLength="22.4" lengthAdjust="spacingAndGlyphs">(<tspan font-weight="bold">a</tspan>)</text>
<text x="38.8" y="27.6" class="ti" textLength="83" lengthAdjust="spacingAndGlyphs">All patients</text>
<text x="313.8" y="27.6" class="ti" textLength="23.2" lengthAdjust="spacingAndGlyphs">(<tspan font-weight="bold">b</tspan>)</text>
<text x="344.2" y="27.6" class="ti" textLength="157" lengthAdjust="spacingAndGlyphs">In-hospital mortalities</text>
<defs><linearGradient id="g1" x1="0" y1="1" x2="0" y2="0">
<stop offset="0" stop-color="#6440A4"/>
<stop offset="0.1" stop-color="#1A84BC"/>
<stop offset="0.2" stop-color="#1EB4A0"/>
<stop offset="0.3" stop-color="#98DC98"/>
<stop offset="0.4" stop-color="#DCF78A"/>
<stop offset="0.5" stop-color="#FFFD9C"/>
<stop offset="0.6" stop-color="#FDD870"/>
<stop offset="0.7" stop-color="#FB9E40"/>
<stop offset="0.8" stop-color="#F25528"/>
<stop offset="0.9" stop-color="#DA2A40"/>
<stop offset="1" stop-color="#A8003E"/>
</linearGradient></defs>
<rect x="274.2" y="158.1" width="10.6" height="51.5" fill="url(#g1)"/>
<text x="287.3" y="164.4" class="lg">800</text>
<text x="287.3" y="177.9" class="lg">200</text>
<text x="287.3" y="193.2" class="lg">50</text>
<text x="287.3" y="209.7" class="lg">10</text>
<defs><linearGradient id="g2" x1="0" y1="1" x2="0" y2="0">
<stop offset="0" stop-color="#6440A4"/>
<stop offset="0.1" stop-color="#1A84BC"/>
<stop offset="0.2" stop-color="#1EB4A0"/>
<stop offset="0.3" stop-color="#98DC98"/>
<stop offset="0.4" stop-color="#DCF78A"/>
<stop offset="0.5" stop-color="#FFFD9C"/>
<stop offset="0.6" stop-color="#FDD870"/>
<stop offset="0.7" stop-color="#FB9E40"/>
<stop offset="0.8" stop-color="#F25528"/>
<stop offset="0.9" stop-color="#DA2A40"/>
<stop offset="1" stop-color="#A8003E"/>
</linearGradient></defs>
<rect x="578.2" y="158.2" width="10.9" height="51.7" fill="url(#g2)"/>
<text x="591.6" y="165" class="lg">100</text>
<text x="591.6" y="181" class="lg">20</text>
<text x="591.6" y="195.6" class="lg">5</text>
</svg>
</body></html>
